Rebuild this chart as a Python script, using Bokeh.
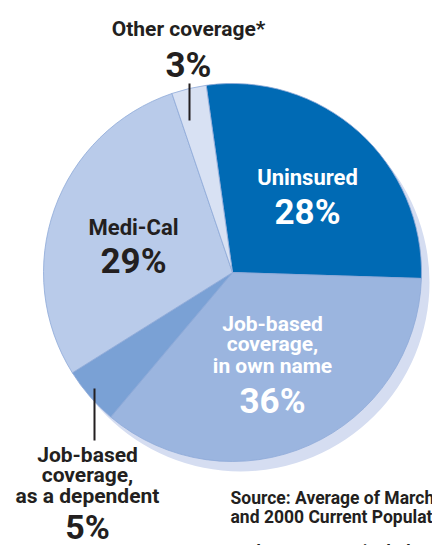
import numpy as np
from bokeh.plotting import figure
from bokeh.models import Range1d
from bokeh.core.properties import value
from bokeh.embed import file_html
from bokeh.resources import INLINE

# ---- data ----
categories = ["Uninsured", "Job-based coverage, in own name",
              "Job-based coverage, as a dependent", "Medi-Cal", "Other coverage*"]
shares = [28, 36, 5, 29, 3]
pct_labels = ["28%", "36%", "5%", "29%", "3%"]
colors = ["#006ab4", "#9bb5df", "#7aa1d5", "#b9cbea", "#d8e1f3"]
name_lines = [["Uninsured"], ["Job-based", "coverage,", "in own name"],
              ["Job-based", "coverage,", "as a dependent"], ["Medi-Cal"],
              ["Other coverage*"]]
source_lines = ["Source: Average of March 1999",
                "and 2000 Current Population Surveys.",
                "*Other coverage includes Healthy Families and Medicare."]

# ---- layout ----
W, H = 432, 545
FONT = value("Roboto")

def Y(ys):
    return H - ys

p = figure(width=W, height=H, output_backend="svg", toolbar_location=None,
           x_range=Range1d(0, W), y_range=Range1d(0, H), min_border=0,
           outline_line_color=None)
p.axis.visible = False
p.grid.visible = False
p.background_fill_color = "white"
p.border_fill_color = "white"

cx, cy, r = 232, Y(272), 189
start_compass = -8.0

# shadow
p.circle(x=[cx + 8], y=[cy - 10], radius=r, fill_color="#d5ddf1",
         line_color=None)

vals = np.array(shares, dtype=float)
frac = vals / vals.sum()
cum = np.concatenate([[0], np.cumsum(frac)]) * 360 + start_compass
starts = np.radians(90 - cum[:-1])
ends = np.radians(90 - cum[1:])
p.wedge(x=cx, y=cy, radius=r, start_angle=starts, end_angle=ends,
        direction="clock", fill_color=colors, line_color="#8eaad8",
        line_width=0.8)

# labels: (x, [cap-middle y of name lines], pct cap-middle y, color, name size, pct size)
label_layout = [
    (307, [177], 212, "white", 22, 35),
    (272, [323, 343, 365], 401, "white", 21, 35),
    (87, [454, 474, 495], 526, "#231f20", 21, 34),
    (133, [227], 261, "#231f20", 22, 35),
    (188, [28], 65, "#231f20", 21, 35),
]
for i, (lx, lys, py, col, ns, ps) in enumerate(label_layout):
    lines = name_lines[i]
    p.text(x=[lx] * len(lines), y=list(Y(np.array(lys))), text=lines,
           text_font=FONT, text_font_style="bold", text_font_size=f"{ns}px",
           text_color=col, text_align="center", text_baseline="middle")
    p.text(x=[lx], y=[Y(py)], text=[pct_labels[i]], text_font=FONT,
           text_font_style="bold", text_font_size=f"{ps}px", text_color=col,
           text_align="center", text_baseline="middle")

# leader lines
p.line(x=[189, 189], y=[Y(83), Y(120)], line_color="#231f20", line_width=2)
p.line(x=[94, 94], y=[Y(388), Y(440)], line_color="#231f20", line_width=2)

# source
p.text(x=[230] * 3, y=[Y(497), Y(516), Y(551)], text=source_lines,
       text_font=FONT, text_font_style="bold", text_font_size="17.5px",
       text_color="#231f20", text_align="left", text_baseline="middle")

open("out.html", "w").write(file_html(p, INLINE))
